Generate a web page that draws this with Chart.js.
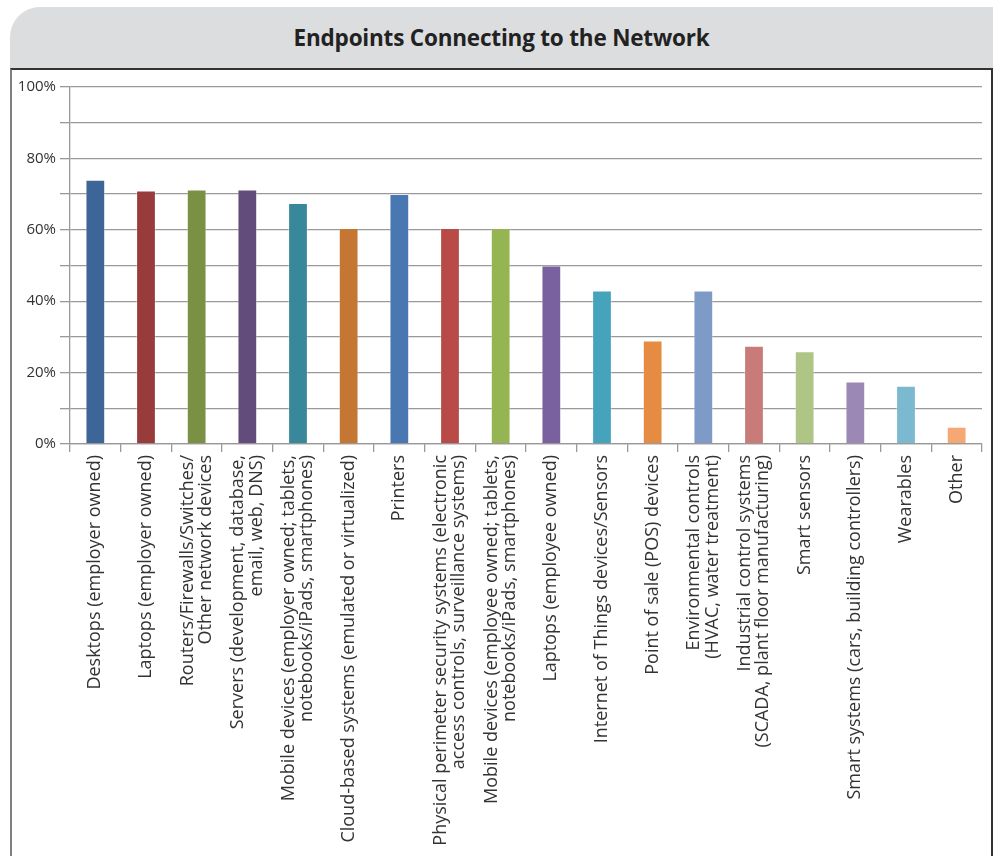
<!DOCTYPE html>
<html>
<head>
<meta charset="utf-8">
<script src="https://cdn.jsdelivr.net/npm/chart.js@4/dist/chart.umd.min.js"></script>
<style>
  html, body { margin: 0; padding: 0; background: #fff; }
  body { width: 1000px; height: 856px; position: relative; overflow: hidden; font-family: "Open Sans", sans-serif; }
  .header {
    position: absolute; left: 10px; top: 7px; width: 983px; height: 61px;
    background: #dcdddf; border-top-left-radius: 30px;
    display: flex; align-items: center; justify-content: center;
    font-weight: 700; font-size: 22.5px; color: #222; letter-spacing: -0.2px;
  }
  .panel {
    position: absolute; left: 10px; top: 68px; width: 979px; height: 800px;
    border-top: 2px solid #333; border-left: 2px solid #808080; border-right: 2px solid #333;
  }
  #chartWrap { position: absolute; left: 0; top: 0; width: 979px; height: 786px; }
</style>
</head>
<body>
<div class="header">Endpoints Connecting to the Network</div>
<div class="panel">
  <div id="chartWrap"><canvas id="graficaEndpoints"></canvas></div>
</div>
<script>
// Categorías (las de dos líneas van como arreglos)
var categorias = [
  'Desktops (employer owned)',
  'Laptops (employer owned)',
  ['Routers/Firewalls/Switches/', 'Other network devices'],
  ['Servers (development, database,', 'email, web, DNS)'],
  ['Mobile devices (employer owned; tablets,', 'notebooks/iPads, smartphones)'],
  'Cloud-based systems (emulated or virtualized)',
  'Printers',
  ['Physical perimeter security systems (electronic', 'access controls, surveillance systems)'],
  ['Mobile devices (employee owned; tablets,', 'notebooks/iPads, smartphones)'],
  'Laptops (employee owned)',
  'Internet of Things devices/Sensors',
  'Point of sale (POS) devices',
  ['Environmental controls', '(HVAC, water treatment)'],
  ['Industrial control systems', '(SCADA, plant floor manufacturing)'],
  'Smart sensors',
  'Smart systems (cars, building controllers)',
  'Wearables',
  'Other'
];

// Porcentaje de respuestas por tipo de endpoint
var porcentajes = [74, 71, 71.3, 71.3, 67.5, 60.5, 70, 60.5, 60.5, 50, 43, 29, 43, 27.5, 26, 17.5, 16.3, 4.8];

var coloresBarras = [
  '#3e6597', '#973c3b', '#7a9143', '#624c7c', '#38879a', '#c57632',
  '#4877b1', '#b84b48', '#95b552', '#79609e', '#46a3bc', '#e68c42',
  '#7e9bc8', '#c97b7a', '#afc586', '#9b88b4', '#7ab9cf', '#f6a874'
];

// Etiquetas del eje Y: solo cada 20%
var ticksY = [0, 20, 40, 60, 80, 100];

// Centra las etiquetas de varias líneas sobre su barra
var centrarEtiquetas = {
  id: 'centrarEtiquetas',
  beforeDraw: function (chart) {
    var items = chart.scales.x.getLabelItems();
    items.forEach(function (item) {
      if (Array.isArray(item.label) && !item._centrado) {
        var tr = item.options ? item.options.translation : item.translation;
        tr[0] -= (item.label.length - 1) * item.font.lineHeight / 2;
        item._centrado = true;
      }
    });
  }
};

var colorGrid = '#999';
var colorTexto = '#333';

var ctx = document.getElementById('graficaEndpoints').getContext('2d');
var grafica = new Chart(ctx, {
  type: 'bar',
  data: {
    labels: categorias,
    datasets: [{
      data: porcentajes,
      backgroundColor: coloresBarras,
      borderColor: 'rgba(255,255,255,0.35)',
      borderWidth: 1,
      barPercentage: 0.39,
      categoryPercentage: 1
    }]
  },
  options: {
    responsive: true,
    maintainAspectRatio: false,
    animation: false,
    layout: { padding: { top: 17, right: 9, left: 0, bottom: 0 } },
    plugins: {
      legend: { display: false },
      tooltip: { enabled: false }
    },
    scales: {
      x: {
        grid: {
          display: true,
          drawOnChartArea: false,
          color: colorGrid,
          lineWidth: 1.3,
          tickLength: 8
        },
        border: { color: colorGrid, width: 1.3 },
        ticks: {
          color: colorTexto,
          font: { family: 'Open Sans', size: 18, lineHeight: 1.03 },
          minRotation: 90,
          maxRotation: 90,
          autoSkip: false,
          padding: 3
        },
        afterFit: function (scale) { scale.height = 412; }
      },
      y: {
        min: 0,
        max: 100,
        grid: { color: colorGrid, lineWidth: 1.3, tickLength: 10 },
        border: { color: colorGrid, width: 1.3 },
        ticks: {
          stepSize: 10,
          padding: 4,
          color: colorTexto,
          font: { family: 'Open Sans', size: 15 },
          callback: function (v) { return ticksY.indexOf(v) >= 0 ? v + '%' : ''; }
        },
        afterFit: function (scale) { scale.width = 58; }
      }
    }
  },
  plugins: [centrarEtiquetas]
});
</script>
</body>
</html>
